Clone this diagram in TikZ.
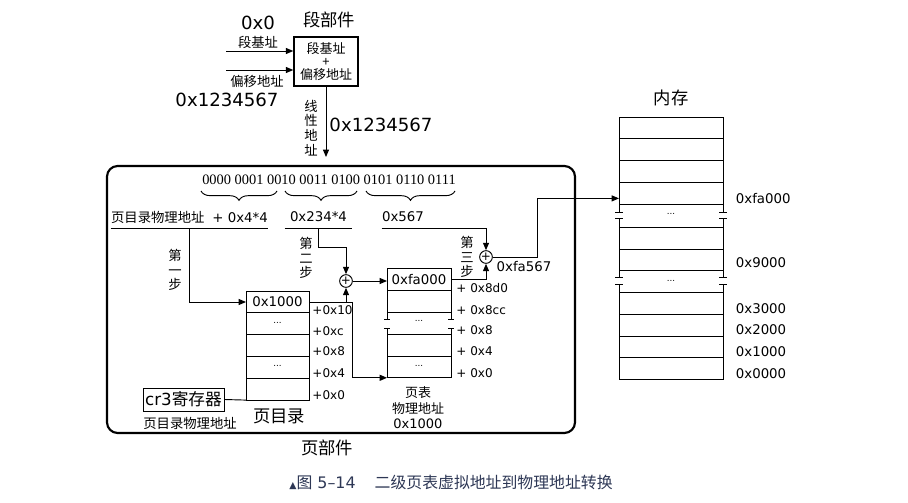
\documentclass[tikz,border=0pt]{standalone}
\usepackage{fontspec}
\setmainfont{DejaVu Sans}
\newfontfamily\zh{Noto Sans CJK SC}
\newfontfamily\bitfont{Liberation Serif}
\usetikzlibrary{arrows.meta, positioning, decorations.pathreplacing}
\definecolor{capcol}{RGB}{45,55,85}
\newcommand\skipmark{\raisebox{2pt}{\fontsize{6.5}{6.5}\selectfont ...}}

\begin{document}
\begin{tikzpicture}[
            x=0.75pt, y=-0.75pt,
            >={Triangle[length=5.5pt,width=4.5pt]},
            line width=0.7pt,
            box/.style={
                draw,
                rectangle,
                line width=1.1pt,
                align=center,
                inner sep=0pt,
                minimum width=48pt,
                minimum height=36.75pt,
                font=\zh\fontsize{9.75}{9.5}\selectfont
            },
            cell/.style={draw, rectangle, inner sep=0pt, outer sep=0pt,
                minimum height=16.35pt, font=\fontsize{10}{12}\selectfont},
            pdcell/.style={cell, minimum width=47.25pt},
            ptcell/.style={cell, minimum width=48pt},
            memcell/.style={cell, minimum width=78pt},
            adder/.style={draw, circle, inner sep=0pt, minimum size=9.5pt,
                font=\fontsize{9}{9}\selectfont},
            heading/.style={font=\zh\fontsize{13}{15}\selectfont},
            zhtext/.style={font=\zh\fontsize{10}{12}\selectfont, align=center},
            steptext/.style={font=\zh\fontsize{10}{11}\selectfont, align=center},
            bignum/.style={font=\fontsize{13.6}{15}\selectfont},
            num/.style={font=\fontsize{10}{12}\selectfont},
            offlabel/.style={anchor=west, inner sep=0pt, font=\fontsize{9}{10}\selectfont},
            ulabel/.style={inner sep=0pt, minimum height=16.5pt, font=\fontsize{10}{12}\selectfont},
            underbrace/.style={decorate, decoration={brace, mirror, amplitude=7pt}}
        ]
            \useasboundingbox (0,0) rectangle (908,503);

            % Segment unit
            \node [box] (seg) at (326,61.5) {段基址\\+\\偏移地址};
            \node [heading] (segname) at (329,20) {段部件};
            \coordinate (basein) at (226,51);
            \coordinate (offin) at (226,70);
            \draw [->] (basein) -- (basein -| seg.west);
            \draw [->] (offin) -- (offin -| seg.west);
            \node [bignum] (baseval) at (258,23) {0x0};
            \node [zhtext] (basename) at (258,42) {段基址};
            \node [zhtext] (offname) at (257,81) {偏移地址};
            \node [bignum] (offval) at (227,100) {0x1234567};

            % Linear address out of the segment unit
            \coordinate (linend) at (327,157);
            \draw [->] (seg.south) -- (seg.south |- linend);
            \node [steptext] (linname) at (311,128) {线\\性\\地\\址};
            \node [bignum] (linval) at (381,125) {0x1234567};

            % Page unit frame
            \node [draw, line width=1.6pt, rounded corners=8pt,
                minimum width=351pt, minimum height=200.25pt] (pageunit) at (341,299.5) {};
            \node [heading] (pagename) at (327,448) {页部件};

            % Address bits and their fields
            \node [font=\bitfont\fontsize{10.8}{12}\selectfont] (bits) at (329,180)
                {0000 0001 0010 0011 0100 0101 0110 0111};
            \draw [underbrace] (201,191) -- (277,191);
            \draw [underbrace] (285,191) -- (357,191);
            \draw [underbrace] (366,191) -- (455,191);

            \node [ulabel, minimum width=116.25pt] (dirlbl) at (189.5,217)
                {{\zh 页目录物理地址}\; + 0x4*4};
            \node [ulabel, minimum width=50.25pt] (tablbl) at (318.5,217) {0x234*4};
            \node [ulabel] (pglbl) at (403,217) {0x567};
            \draw (dirlbl.south west) -- (dirlbl.south east);
            \draw (tablbl.south west) -- (tablbl.south east);

            % Page directory
            \node [pdcell] (pd1) at (277.5,302) {0x1000};
            \node [pdcell, below=0pt of pd1] (pd2) {\skipmark};
            \node [pdcell, below=0pt of pd2] (pd3) {};
            \node [pdcell, below=0pt of pd3] (pd4) {\skipmark};
            \node [pdcell, below=0pt of pd4] (pd5) {};
            \node [offlabel] at ([shift={(3,8)}]pd1.east) {+0x10};
            \node [offlabel] at ([shift={(3,7)}]pd2.east) {+0xc};
            \node [offlabel] at ([shift={(3,6)}]pd3.east) {+0x8};
            \node [offlabel] at ([shift={(3,6)}]pd4.east) {+0x4};
            \node [offlabel] at ([shift={(3,6)}]pd5.east) {+0x0};
            \node [heading] (pdname) at (279,416) {页目录};

            % cr3 register
            \node [draw, inner sep=0pt, minimum width=60.75pt, minimum height=17.25pt,
                font=\fontsize{12.5}{14}\selectfont] (cr3) at (183.5,399.5) {cr3{\zh 寄存器}};
            \node [zhtext] (cr3name) at (190,423) {页目录物理地址};
            \draw (cr3.east) -- (pd5.south west);

            % Page table
            \node [ptcell] (pt1) at (419,279.5) {0xfa000};
            \node [ptcell, below=0pt of pt1] (pt2) {};
            \node [ptcell, below=16.5pt of pt2] (pt3) {};
            \node [ptcell, below=0pt of pt3] (pt4) {\skipmark};
            \foreach \s in {west,east} {
                \draw (pt2.south \s) -- ++(0,7) ++(-3,0) -- ++(6,0);
                \draw (pt3.north \s) -- ++(0,-6) ++(-3,0) -- ++(6,0);
            }
            \path (pt2.south) ++(0,10) node {\skipmark};
            \node [offlabel] at ([shift={(5,9)}]pt1.east) {+ 0x8d0};
            \node [offlabel] at ([shift={(5,9)}]pt2.east) {+ 0x8cc};
            \node [offlabel] at ([shift={(5,29)}]pt2.east) {+ 0x8};
            \node [offlabel] at ([shift={(5,6)}]pt3.east) {+ 0x4};
            \node [offlabel] at ([shift={(5,6)}]pt4.east) {+ 0x0};
            \node [align=center, font=\fontsize{9.75}{11.6}\selectfont] (ptname) at (418,408)
                {{\zh 页表}\\{\zh 物理地址}\\0x1000};

            % Adders
            \node [adder] (add2) at (346,281) {+};
            \node [adder] (add3) at (486,257) {+};

            % Step 1
            \draw [->] (dirlbl.south) |- (pd1.west);
            \node [steptext] at (175,270) {第\\一\\步};

            % Step 2
            \draw [->] (tablbl.south) -- ++(0,19) -| (add2.north);
            \draw [->] (pd1.east -| add2) -- (add2.south);
            \draw [->] (pd1.east) -- ++(43,0) |- (pt4.south west);
            \draw [->] (add2.east) -- (add2.east -| pt1.west);
            \node [steptext] at (306,258) {第\\二\\步};

            % Step 3
            \draw [->] (pglbl.south west) -| (add3.north);
            \draw [->] (pt1.east) -| (add3.south);
            \node [steptext] at (467,257) {第\\三\\步};
            \node [num] (physval) at (524,267) {0xfa567};

            % Memory
            \node [heading] (memname) at (671,98) {内存};
            \node [memcell] (m1) at (671,128) {};
            \node [memcell, below=0pt of m1] (m2) {};
            \node [memcell, below=0pt of m2] (m3) {};
            \node [memcell, below=0pt of m3] (m4) {};
            \node [memcell, below=17.25pt of m4] (m5) {};
            \node [memcell, below=0pt of m5] (m6) {};
            \node [memcell, below=16.1pt of m6] (m7) {};
            \node [memcell, below=0pt of m7] (m8) {};
            \node [memcell, below=0pt of m8] (m9) {};
            \node [memcell, below=0pt of m9] (m10) {};
            \foreach \s in {west,east} {
                \draw (m4.south \s) -- ++(0,8) ++(-4,0) -- ++(8,0);
                \draw (m5.north \s) -- ++(0,-9) ++(-4,0) -- ++(8,0);
                \draw (m6.south \s) -- ++(0,6.5) ++(-4,0) -- ++(8,0);
                \draw (m7.north \s) -- ++(0,-8) ++(-4,0) -- ++(8,0);
            }
            \path (m4.south) ++(0,11) node {\skipmark};
            \path (m6.south) ++(0,11) node {\skipmark};
            \node [num, anchor=west] at ([shift={(8,5)}]m4.east) {0xfa000};
            \node [num, anchor=west] at ([shift={(8,3)}]m6.east) {0x9000};
            \node [num, anchor=west] at ([shift={(8,5)}]m7.east) {0x3000};
            \node [num, anchor=west] at ([shift={(8,5)}]m8.east) {0x2000};
            \node [num, anchor=west] at ([shift={(8,5)}]m9.east) {0x1000};
            \node [num, anchor=west] at ([shift={(8,5)}]m10.east) {0x0000};

            % Physical address into memory
            \draw [->] (add3.east) -- ++(45,0) |- ([shift={(0,5)}]m4.west);

            % Caption
            \node [font=\fontsize{11.9}{14}\selectfont, text=capcol] (caption) at (451,482)
                {{\fontsize{7}{7}\selectfont ▲}{\zh 图} 5–14\hspace{1.2em}{\zh 二级页表虚拟地址到物理地址转换}};
        \end{tikzpicture}
\end{document}
